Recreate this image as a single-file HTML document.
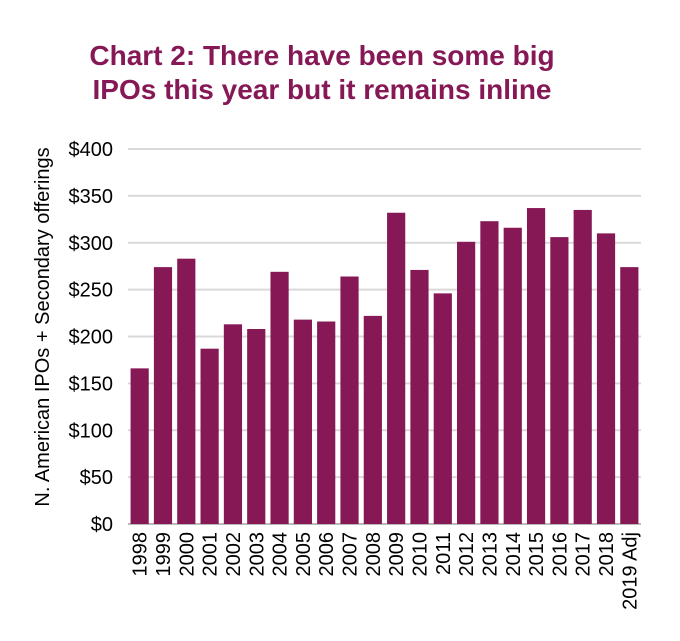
<!DOCTYPE html>
<html><head><meta charset="utf-8"><style>
body{margin:0;background:#fff;width:680px;height:636px;overflow:hidden;font-family:"Liberation Sans",Arial,sans-serif}
</style></head><body>
<svg width="680" height="636" xmlns="http://www.w3.org/2000/svg">
<text x="322" y="65" text-anchor="middle" font-size="28" font-weight="bold" fill="#861856">Chart 2: There have been some big</text>
<text x="322" y="99" text-anchor="middle" font-size="28" font-weight="bold" fill="#861856">IPOs this year but it remains inline</text>
<text transform="translate(49,327) rotate(-90)" text-anchor="middle" font-size="20" fill="#000">N. American IPOs + Secondary offerings</text>
<g id="grid"></g><g id="bars"></g><g id="xl"></g>
</svg>
<script>
const categories=["1998","1999","2000","2001","2002","2003","2004","2005","2006","2007","2008","2009","2010","2011","2012","2013","2014","2015","2016","2017","2018","2019 Adj"];
const values=[166,274,283,187,213,208,269,218,216,264,222,332,271,246,301,323,316,337,306,335,310,274];
const ticks=[0,50,100,150,200,250,300,350,400];
const tickLabels=["$0","$50","$100","$150","$200","$250","$300","$350","$400"];
const X0=128,X1=641,Y0=524,Y1=149,YMAX=400;
const ns="http://www.w3.org/2000/svg";
function y(v){return Y0-(v/YMAX)*(Y0-Y1);}
const bw=(X1-X0)/categories.length;
function x(i){return X0+i*bw;}
const g=document.getElementById('grid'),b=document.getElementById('bars'),xl=document.getElementById('xl');
ticks.forEach((t,i)=>{
 const l=document.createElementNS(ns,'line');
 l.setAttribute('x1',X0);l.setAttribute('x2',X1);l.setAttribute('y1',y(t));l.setAttribute('y2',y(t));
 l.setAttribute('stroke',t===0?'#bbb':'#d9d9d9');l.setAttribute('stroke-width','2');
 
 
 g.appendChild(l);
 const tx=document.createElementNS(ns,'text');
 tx.setAttribute('x',113);tx.setAttribute('y',y(t)+7);tx.setAttribute('text-anchor','end');tx.setAttribute('font-size','20');
 tx.textContent=tickLabels[i];
 
 
 g.appendChild(tx);
});
categories.forEach((c,i)=>{
 const r=document.createElementNS(ns,'rect');
 const w=bw*0.78;
 r.setAttribute('x',x(i)+(bw-w)/2);r.setAttribute('width',w);
 r.setAttribute('y',y(values[i]));r.setAttribute('height',Y0-y(values[i]));
 r.setAttribute('fill','#861856');
 
 
 b.appendChild(r);
 const t=document.createElementNS(ns,'text');
 const cx=x(i)+bw/2+7;
 t.setAttribute('transform','translate('+cx+',532) rotate(-90)');
 t.setAttribute('text-anchor','end');t.setAttribute('font-size','20');
 t.textContent=c;
 
 
 xl.appendChild(t);
});
</script>
</body></html>
